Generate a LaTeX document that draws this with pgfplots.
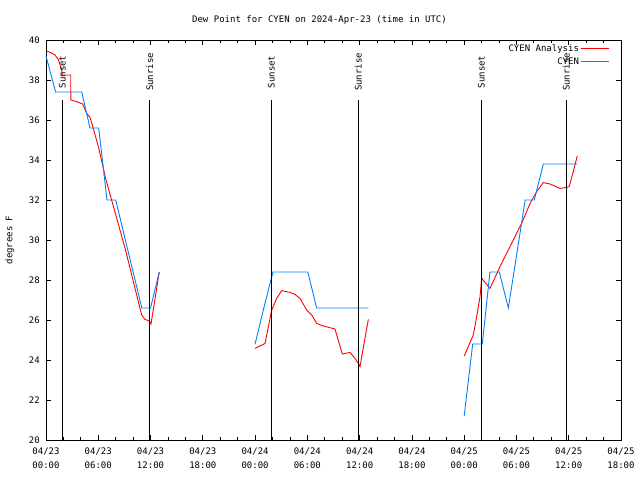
\documentclass[border=0pt]{standalone}
\usepackage{fontspec}
\setmainfont{DejaVu Sans Mono}
\usepackage{pgfplots}
\pgfplotsset{compat=1.18}
\definecolor{gpred}{RGB}{255,0,0}
\definecolor{gpblue}{RGB}{0,128,255}
\begin{document}
\fontsize{9pt}{13pt}\selectfont
\begin{tikzpicture}
\path[use as bounding box] (-46pt,-40pt) rectangle (594pt,440pt);
\begin{axis}[
  at={(0pt,0pt)}, anchor=south west,
  scale only axis, width=575pt, height=400pt,
  xmin=0, xmax=66, ymin=20, ymax=40,
  axis line style={black, line width=0.8pt},
  tick align=inside, xtick pos=both, ytick pos=both,
  major tick length=5pt, minor tick length=3pt,
  tick style={black, line width=0.8pt},
  xtick={0,6,...,66}, minor xtick={2,4,8,10,14,16,20,22,26,28,32,34,38,40,44,46,50,52,56,58,62,64},
  xticklabels={{04/23\\00:00},{04/23\\06:00},{04/23\\12:00},{04/23\\18:00},{04/24\\00:00},{04/24\\06:00},{04/24\\12:00},{04/24\\18:00},{04/25\\00:00},{04/25\\06:00},{04/25\\12:00},{04/25\\18:00}},
  xticklabel style={align=center, font=\fontsize{9pt}{14pt}\selectfont, yshift=-5pt},
  yticklabel style={xshift=-3pt},
  ytick={20,22,...,40},
  /pgf/number format/assume math mode=true,
  ylabel={degrees F},
  ylabel style={at={(axis description cs:-0.0626,0.5)}, anchor=center},
  clip=false,
  unbounded coords=jump,
  legend plot pos=right,
  legend cell align=right,
  legend style={draw=none, fill=none, at={(rel axis cs:0.981,0.995)}, anchor=north east, inner sep=0pt, row sep=1pt, font=\fontsize{9pt}{11pt}\selectfont},
  legend image code/.code={\draw[#1] (0pt,0pt) -- (28pt,0pt);},
]
\addplot[gpred, line width=0.9pt] table {
0 39.45
0.54 39.37
1.03 39.25
1.41 39.03
1.80 38.5
1.87 38.25
2.84 38.25
2.85 37.0
3.52 36.92
4.21 36.8
4.67 36.33
5.05 36.13
5.43 35.58
6.05 34.6
6.89 33.0
9.07 29.6
10.98 26.25
11.36 26.03
11.86 25.95
12.05 25.8
13.0 28.4
nan nan
23.99 24.58
24.94 24.78
25.14 24.83
25.91 26.5
26.48 27.08
27.05 27.47
28.01 27.38
28.58 27.28
29.16 27.08
29.92 26.5
30.50 26.25
31.07 25.83
31.83 25.7
33.17 25.55
33.37 25.25
34.01 24.3
34.90 24.38
35.47 24.08
35.85 23.83
36.04 23.67
37.00 26.03
nan nan
48.01 24.2
48.47 24.67
49.05 25.25
49.44 26.17
49.82 27.17
50.01 28.08
50.96 27.58
52.11 28.67
53.26 29.67
54.60 30.83
55.56 31.83
56.32 32.42
57.08 32.87
57.85 32.8
59.00 32.58
59.76 32.63
60.06 32.67
60.52 33.42
60.98 34.2
};
\addlegendentry{CYEN Analysis}
\addplot[gpblue, line width=0.9pt] table {
0 39.2
1.1 37.4
4.1 37.4
5.05 35.6
6.05 35.6
7 32.0
8 32.0
9 30.2
10 28.4
11 26.6
12 26.6
13 28.4
nan nan
24 24.8
25 26.6
26.05 28.4
30.05 28.4
31.07 26.6
37.0 26.6
nan nan
48.0 21.2
48.98 24.8
50.08 24.8
50.96 28.4
52.03 28.4
53.07 26.6
55.0 32.0
56.05 32.0
57.08 33.8
61.03 33.8
};
\addlegendentry{CYEN}
\addplot[black, line width=1pt, forget plot] coordinates {(1.87,20) (1.87,37)};
\addplot[black, line width=1pt, forget plot] coordinates {(11.9,20) (11.9,37)};
\addplot[black, line width=1pt, forget plot] coordinates {(25.88,20) (25.88,37)};
\addplot[black, line width=1pt, forget plot] coordinates {(35.85,20) (35.85,37)};
\addplot[black, line width=1pt, forget plot] coordinates {(49.96,20) (49.96,37)};
\addplot[black, line width=1pt, forget plot] coordinates {(59.73,20) (59.73,37)};
\node[rotate=90] at (axis cs:1.87,38.4) {Sunset};
\node[rotate=90] at (axis cs:11.9,38.4) {Sunrise};
\node[rotate=90] at (axis cs:25.88,38.4) {Sunset};
\node[rotate=90] at (axis cs:35.85,38.4) {Sunrise};
\node[rotate=90] at (axis cs:49.96,38.4) {Sunset};
\node[rotate=90] at (axis cs:59.73,38.4) {Sunrise};
\node at (rel axis cs:0.5,1) [yshift=20pt, xshift=-14pt] {Dew Point for CYEN on 2024-Apr-23 (time in UTC)};
\end{axis}
\end{tikzpicture}
\end{document}
